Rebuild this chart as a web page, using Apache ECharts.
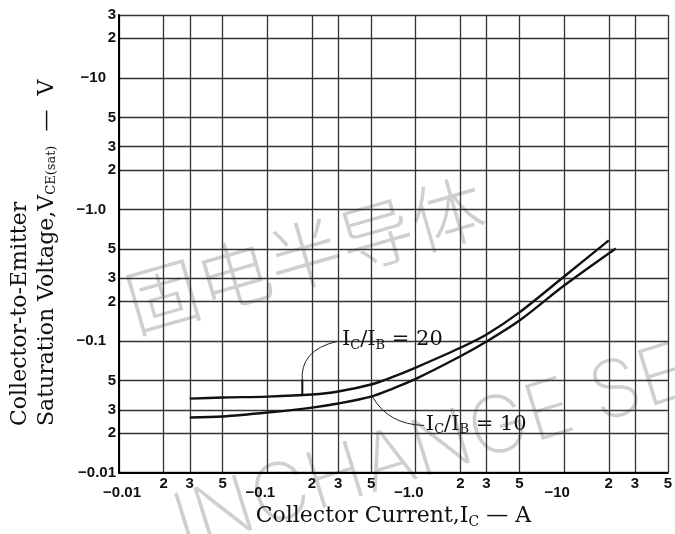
<!DOCTYPE html>
<html><head><meta charset="utf-8">
<script src="https://cdn.jsdelivr.net/npm/echarts@6/dist/echarts.min.js"></script>
<style>html,body{margin:0;padding:0;background:#fff}#c{width:675px;height:534px}</style>
</head><body><div id="c"></div>
<script>
// ---- data ----
const xTicks = [0.01, 0.02, 0.03, 0.05, 0.1, 0.2, 0.3, 0.5, 1, 2, 3, 5, 10, 20, 30, 50];
const xTickLabels = ['−0.01', '2', '3', '5', '−0.1', '2', '3', '5', '−1.0', '2', '3', '5', '−10', '2', '3', '5'];
const yTicks = [0.01, 0.02, 0.03, 0.05, 0.1, 0.2, 0.3, 0.5, 1, 2, 3, 5, 10, 20, 30];
const yTickLabels = ['−0.01', '2', '3', '5', '−0.1', '2', '3', '5', '−1.0', '2', '3', '5', '−10', '2', '3'];

const current20 = [0.03, 0.05, 0.1, 0.2, 0.3, 0.5, 0.7, 1, 2, 3, 5, 10, 20];
const vce20 = [0.0365, 0.0372, 0.0378, 0.0392, 0.0413, 0.0467, 0.0533, 0.0628, 0.0888, 0.112, 0.165, 0.309, 0.581];
const current10 = [0.03, 0.05, 0.1, 0.2, 0.3, 0.5, 0.7, 1, 2, 3, 5, 10, 22.3];
const vce10 = [0.0262, 0.0267, 0.0286, 0.0312, 0.0335, 0.0378, 0.0435, 0.0515, 0.0765, 0.099, 0.143, 0.264, 0.505];

const serif = '"DejaVu Serif", "Liberation Serif", serif';
const sans = '"Liberation Sans", Arial, sans-serif';

function tickText(list, labels, v) {
  const i = list.findIndex(t => Math.abs(Math.log10(t) - Math.log10(v)) < 1e-6);
  return i < 0 ? '' : labels[i];
}

const chart = echarts.init(document.getElementById('c'), null, { renderer: 'canvas' });
const lab = { fontFamily: sans, fontSize: 15, fontWeight: 'bold', color: '#111' };

chart.setOption({
  animation: false,
  backgroundColor: '#fff',
  grid: { left: 119, top: 15, width: 555, height: 459 },
  xAxis: {
    type: 'log', logBase: 10, min: 0.01, max: 50,
    axisLine: { show: true, onZero: false, lineStyle: { color: '#000', width: 2 } },
    axisTick: { show: false, customValues: xTicks },
    splitLine: { show: true, lineStyle: { color: '#333', width: 1.3 } },
    minorSplitLine: { show: false },
    axisLabel: Object.assign({
      customValues: xTicks, margin: 4, showMinLabel: true, showMaxLabel: true, hideOverlap: false,
      formatter: v => {
        const s = tickText(xTicks, xTickLabels, v);
        if (s.length > 1) return (s === '−0.01' ? '{e|' : '{d|') + s + '}';
        return s;
      },
      rich: {
        d: Object.assign({ padding: [9, 14, 0, 0] }, lab),
        e: Object.assign({ padding: [9, 0, 0, 6] }, lab)
      }
    }, lab),
    name: '{t|Collector Current,I}{s|C}{t| — A}',
    nameLocation: 'middle', nameGap: 28,
    nameTextStyle: {
      rich: {
        t: { fontFamily: serif, fontSize: 22, color: '#111' },
        s: { fontFamily: serif, fontSize: 14, color: '#111', padding: [11, 0, 0, 0] }
      }
    }
  },
  yAxis: {
    type: 'log', logBase: 10, min: 0.01, max: 30,
    axisLine: { show: true, onZero: false, lineStyle: { color: '#000', width: 2 } },
    axisTick: { show: false, customValues: yTicks },
    splitLine: { show: true, lineStyle: { color: '#333', width: 1.3 } },
    minorSplitLine: { show: false },
    axisLabel: Object.assign({
      customValues: yTicks, margin: 3, showMinLabel: true, showMaxLabel: true, hideOverlap: false,
      formatter: v => {
        const s = tickText(yTicks, yTickLabels, v);
        if (s.length > 1) return (s === '−0.01' ? '{e|' : '{d|') + s + '}';
        return s;
      },
      rich: {
        d: Object.assign({ padding: [0, 10, 0, 0] }, lab),
        e: Object.assign({ padding: [0, 0, 0, 0] }, lab)
      }
    }, lab)
  },
  series: [
    { type: 'line', name: 'IC/IB=20', data: current20.map((x, i) => [x, vce20[i]]),
      smooth: 0.3, symbol: 'none', lineStyle: { color: '#111', width: 2.4 }, z: 5 },
    { type: 'line', name: 'IC/IB=10', data: current10.map((x, i) => [x, vce10[i]]),
      smooth: 0.3, symbol: 'none', lineStyle: { color: '#111', width: 2.4 }, z: 5 }
  ]
});

// annotations anchored in data space
const P = (x, y) => chart.convertToPixel({ xAxisIndex: 0, yAxisIndex: 0 }, [x, y]);
const richAnn = {
  i: { fontFamily: serif, fontSize: 21, fill: '#111' },
  s: { fontFamily: serif, fontSize: 13, fill: '#111', padding: [11, 0, 0, 0] }
};
const t20 = P(0.318, 0.102), l20a = P(0.294, 0.0992), l20c = P(0.164, 0.0848), l20b = P(0.172, 0.0492), l20d = P(0.172, 0.0395);
const t10 = P(1.17, 0.0232), l10a = P(0.51, 0.0378), l10c = P(0.652, 0.0232), l10b = P(1.14, 0.0228);

chart.setOption({
  graphic: [
    { type: 'text', z: -10, x: 305, y: 255, rotation: 0.28, silent: true,
      style: { text: '固电半导体', font: '300 74px "Noto Sans CJK SC"', fill: '#cfcfcf', align: 'center', verticalAlign: 'middle' } },
    { type: 'text', z: -10, x: 188, y: 566, rotation: 0.3, silent: true,
      style: { text: 'INCHANGE SEMI', font: '200 79px Inter', fill: '#cfcfcf', align: 'left', verticalAlign: 'bottom' } },
    { type: 'text', z: 20, x: t20[0], y: t20[1],
      style: { text: '{i|I}{s|C}{i|/I}{s|B}{i| = 20}', rich: richAnn, align: 'left', verticalAlign: 'middle' } },
    { type: 'bezierCurve', z: 20,
      shape: { x1: l20a[0], y1: l20a[1], cpx1: l20c[0], cpy1: l20c[1], x2: l20b[0], y2: l20b[1] },
      style: { stroke: '#222', lineWidth: 1, fill: null } },
    { type: 'line', z: 20, shape: { x1: l20b[0], y1: l20b[1] - 2, x2: l20d[0], y2: l20d[1] },
      style: { stroke: '#111', lineWidth: 2 } },
    { type: 'text', z: 20, x: t10[0], y: t10[1],
      style: { text: '{i|I}{s|C}{i|/I}{s|B}{i| = 10}', rich: richAnn, align: 'left', verticalAlign: 'middle' } },
    { type: 'bezierCurve', z: 20,
      shape: { x1: l10a[0], y1: l10a[1], cpx1: l10c[0], cpy1: l10c[1], x2: l10b[0], y2: l10b[1] },
      style: { stroke: '#222', lineWidth: 1, fill: null } },
    { type: 'text', z: 20, x: 33.5, y: 426, rotation: Math.PI / 2,
      style: {
        text: '{a|Collector-to-Emitter}\n{a|Saturation Voltage,V}{s|CE(sat)}{a|  —  V}',
        rich: {
          a: { fontFamily: serif, fontSize: 22, fill: '#111', lineHeight: 27 },
          s: { fontFamily: serif, fontSize: 13, fill: '#111', padding: [10, 0, 0, 0] }
        },
        align: 'left', verticalAlign: 'middle'
      } }
  ]
});
</script></body></html>
